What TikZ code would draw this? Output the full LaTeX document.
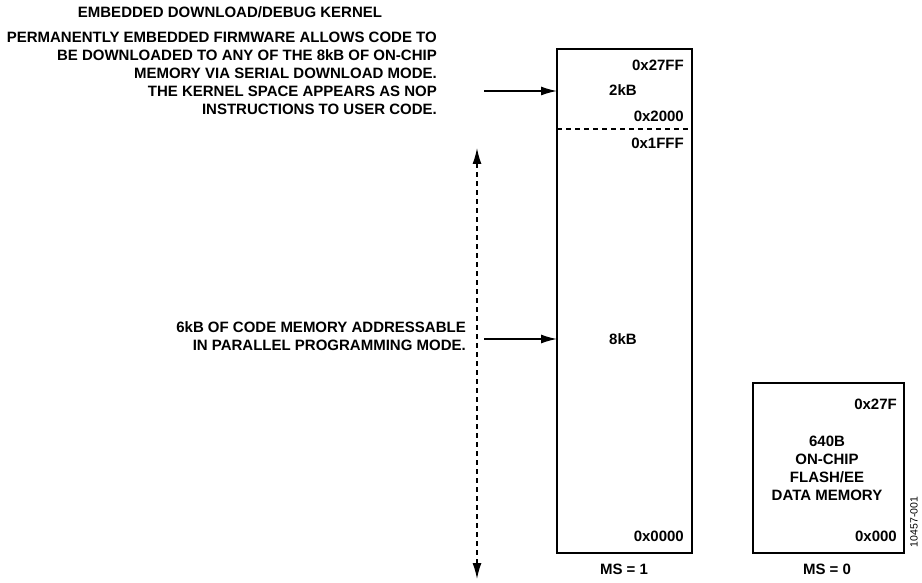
\documentclass[tikz,border=0pt]{standalone}
\usepackage{fontspec}
\setmainfont{Liberation Sans}
\usetikzlibrary{arrows.meta}
\begin{document}
\begin{tikzpicture}[x=1pt,y=-1pt,
  lbl/.style={font=\bfseries\fontsize{15}{18}\selectfont, inner sep=0pt},
  memline/.style={line width=1.6pt},
  tip/.style={Latex[length=16pt,width=9pt]},
  conn/.style={line width=1.4pt, -{Latex[length=16pt,width=9pt]}}]
\useasboundingbox (0,0) rectangle (922,583);
% main memory box
\draw[memline] (557,49) rectangle (692,553);
\draw[line width=1.2pt, dash pattern=on 5pt off 4pt] (557,129) -- (692,129);
\coordinate (mtop) at (557,91);
\coordinate (mmid) at (557,339);
\node[lbl, anchor=east] (a1) at (684,65) {0x27FF};
\node[lbl] (a2) at (623,90) {2kB};
\node[lbl, anchor=east] (a3) at (684,116) {0x2000};
\node[lbl, anchor=east] (a4) at (684,143) {0x1FFF};
\node[lbl] (a5) at (623,339) {8kB};
\node[lbl, anchor=east] (a6) at (684,536) {0x0000};
\node[lbl] (ms1) at (624,569) {MS = 1};
% small memory box
\draw[memline] (753,383) rectangle (904,553);
\node[lbl, anchor=east] (b1) at (897,404) {0x27F};
\node[lbl, align=center] (b2) at (827,468) {640B\\ON-CHIP\\FLASH/EE\\DATA MEMORY};
\node[lbl, anchor=east] (b3) at (897,536) {0x000};
\node[lbl] (ms0) at (827,569) {MS = 0};
\node[font=\fontsize{10.5}{12}\selectfont, rotate=90, inner sep=0pt] (code) at (914,522) {10457-001};
% texts
\node[lbl] (title) at (230,12) {EMBEDDED DOWNLOAD/DEBUG KERNEL};
\node[lbl, align=right, anchor=east] (para) at (437,73) {PERMANENTLY EMBEDDED FIRMWARE ALLOWS CODE TO\\BE DOWNLOADED TO ANY OF THE 8kB OF ON-CHIP\\MEMORY VIA SERIAL DOWNLOAD MODE.\\THE KERNEL SPACE APPEARS AS NOP\\INSTRUCTIONS TO USER CODE.};
\node[lbl, align=right, anchor=east] (six) at (466,336) {6kB OF CODE MEMORY ADDRESSABLE\\IN PARALLEL PROGRAMMING MODE.};
% arrows
\coordinate (s1) at (484,91);
\coordinate (s2) at (484,339);
\draw[conn] (s1) -- (mtop);
\draw[conn] (s2) -- (mmid);
\coordinate (vt) at (477,148);
\coordinate (vb) at (477,579);
\draw[line width=1.4pt, dash pattern=on 5pt off 4pt, {Latex[length=16pt,width=9pt]}-{Latex[length=16pt,width=9pt]}] (vt) -- (vb);
\end{tikzpicture}
\end{document}
